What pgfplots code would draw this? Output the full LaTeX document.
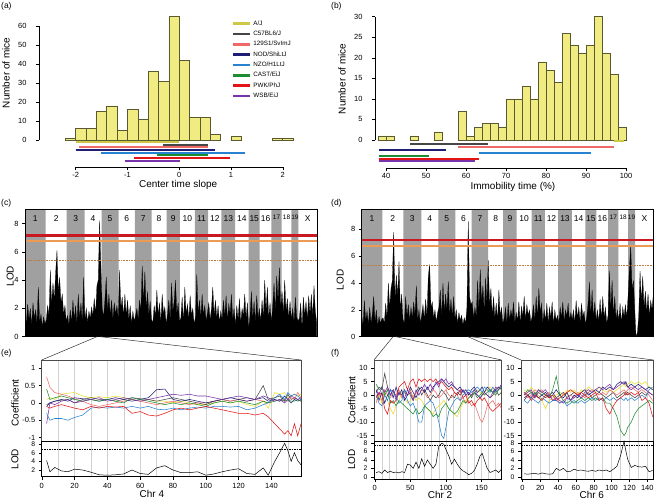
\documentclass[border=0pt]{standalone}
\usepackage{fontspec}
\setmainfont{Liberation Sans}
\usepackage{pgfplots}
\pgfplotsset{compat=1.18}
\usepackage{pgfplotstable}

\definecolor{histfill}{RGB}{240,236,130}
\definecolor{histdraw}{RGB}{90,90,50}
\definecolor{ajbar}{RGB}{205,200,70}
\definecolor{bandgray}{RGB}{160,160,160}
\definecolor{thrred}{RGB}{200,25,35}
\definecolor{throrange}{RGB}{235,155,85}
\definecolor{ajc}{RGB}{232,220,40}
\definecolor{b6c}{RGB}{70,70,70}
\definecolor{s129c}{RGB}{240,105,105}
\definecolor{nodc}{RGB}{30,30,120}
\definecolor{nzoc}{RGB}{40,130,210}
\definecolor{castc}{RGB}{30,140,50}
\definecolor{pwkc}{RGB}{228,20,20}
\definecolor{wsbc}{RGB}{120,50,170}

\pgfplotsset{
  every axis/.append style={
    scale only axis, anchor=south west,
    /pgf/number format/assume math mode=true,
    tick label style={font=\fontsize{7.5}{8}\selectfont},
    label style={font=\fontsize{10}{11}\selectfont},
    tick align=outside, major tick length=3bp,
    tick style={black, line width=0.4bp},
    axis line style={line width=0.5bp},
  },
  coef/.style={line width=0.55bp},
  lodpanel/.style={yticklabel style={font=\fontsize{6.8}{7}\selectfont}},
}

% genome scans, one value every 4 units of the (c)/(d) x axis
\pgfplotstableread[row sep=\\]{lod\\
1.8\\0.9\\2.3\\1.2\\2.0\\0.8\\2.4\\1.3\\1.9\\0.9\\3.5\\1.0\\1.6\\0.7\\1.4\\0.9\\
1.2\\2.2\\1.5\\4.7\\2.3\\3.8\\2.6\\4.5\\6.1\\3.2\\4.2\\2.4\\3.0\\1.6\\2.2\\1.1\\
1.5\\0.8\\1.9\\1.0\\2.6\\1.2\\2.2\\0.9\\3.0\\1.3\\2.4\\1.0\\4.2\\
1.2\\2.0\\1.0\\1.8\\1.3\\2.1\\1.5\\2.7\\1.6\\3.6\\4.0\\8.2\\5.0\\
2.0\\1.4\\2.6\\4.2\\1.8\\3.0\\1.5\\2.6\\1.2\\2.4\\1.6\\2.2\\1.3\\
4.7\\2.0\\2.8\\1.4\\3.0\\1.5\\2.6\\1.2\\2.2\\0.9\\1.8\\1.1\\
1.5\\2.0\\1.2\\2.6\\1.8\\5.0\\2.4\\4.6\\1.9\\3.2\\1.5\\2.5\\1.2\\
1.0\\2.2\\1.4\\3.3\\1.5\\2.4\\1.0\\3.0\\1.6\\2.1\\0.9\\
1.6\\2.6\\1.2\\3.8\\1.8\\2.5\\4.0\\1.6\\2.4\\1.1\\
1.3\\2.8\\1.0\\3.5\\1.6\\2.3\\1.2\\2.9\\1.5\\2.0\\0.9\\
1.4\\4.4\\1.6\\2.6\\1.3\\3.0\\1.5\\2.2\\1.1\\1.7\\
2.4\\1.2\\2.0\\3.5\\1.5\\2.6\\1.3\\2.2\\1.0\\1.8\\
1.2\\2.6\\1.4\\2.9\\1.1\\2.3\\1.6\\3.0\\1.2\\2.0\\
0.8\\2.2\\1.2\\2.7\\1.0\\2.0\\1.5\\3.0\\1.3\\2.4\\0.6\\
1.5\\3.2\\1.2\\2.5\\1.0\\2.9\\1.3\\2.0\\
1.1\\2.6\\1.4\\4.0\\1.8\\3.5\\1.3\\2.4\\1.0\\
2.2\\3.8\\1.8\\4.3\\2.5\\4.9\\2.0\\
3.2\\1.6\\4.0\\1.8\\2.7\\1.3\\2.5\\1.2\\
2.0\\1.0\\2.8\\1.4\\1.1\\
1.3\\2.4\\0.6\\2.8\\1.5\\2.5\\1.2\\2.9\\1.6\\3.0\\1.4\\3.6\\1.8\\1.0\\
}\scanc

\pgfplotstableread[row sep=\\]{lod\\
1.6\\0.8\\2.7\\1.2\\1.9\\0.9\\2.2\\1.0\\1.7\\3.0\\1.1\\2.0\\0.8\\1.5\\1.0\\1.3\\
1.4\\1.0\\2.5\\1.4\\4.0\\2.2\\3.6\\4.2\\7.8\\2.8\\4.6\\3.0\\5.6\\2.0\\3.2\\1.3\\
1.0\\3.0\\1.5\\2.4\\1.2\\2.2\\1.4\\2.6\\1.6\\3.8\\1.2\\2.0\\1.0\\
1.6\\2.4\\1.3\\2.8\\1.5\\4.5\\5.4\\2.2\\2.6\\1.4\\2.0\\1.1\\1.8\\
2.2\\3.5\\1.4\\4.0\\1.8\\3.2\\2.0\\4.1\\1.6\\2.8\\1.5\\3.0\\1.3\\
2.0\\1.0\\1.8\\1.2\\1.6\\0.9\\1.4\\1.0\\2.2\\8.6\\3.0\\2.4\\
2.6\\1.4\\2.2\\1.5\\4.2\\2.0\\5.0\\2.6\\3.8\\1.8\\4.4\\2.5\\5.7\\
2.4\\3.6\\1.6\\3.0\\1.4\\2.5\\1.2\\3.5\\1.5\\2.2\\1.0\\
1.4\\2.2\\1.0\\2.5\\1.2\\2.0\\1.5\\2.6\\1.0\\1.8\\
1.2\\2.6\\1.0\\2.3\\1.5\\3.0\\1.2\\2.4\\1.6\\2.0\\1.1\\
1.5\\2.4\\1.2\\3.0\\1.4\\3.6\\1.8\\2.5\\1.0\\2.0\\
1.2\\2.5\\1.0\\2.2\\1.4\\2.6\\0.9\\2.0\\1.2\\1.6\\
1.0\\2.2\\1.4\\2.6\\1.1\\2.0\\1.5\\2.5\\1.2\\1.8\\
1.3\\2.0\\1.0\\2.7\\1.4\\2.2\\1.1\\2.5\\1.5\\1.9\\0.9\\
1.5\\2.5\\4.1\\1.6\\3.5\\1.4\\2.6\\1.2\\
2.0\\1.1\\2.8\\1.3\\3.0\\1.4\\2.2\\1.0\\1.6\\
4.9\\2.0\\4.2\\1.6\\3.0\\1.3\\2.0\\
1.2\\2.5\\1.0\\2.2\\1.5\\2.4\\1.4\\3.0\\
5.1\\6.8\\3.5\\4.2\\2.0\\
0.0\\0.3\\1.6\\4.9\\2.6\\4.5\\2.2\\3.4\\1.8\\3.2\\1.5\\2.7\\2.0\\3.2\\
}\scand

% (e) chr 4: founder coefficients and LOD
\pgfplotstableread{
x    aj    b6    s129  nod   nzo   cast  pwk   wsb   lod
3    0.10 -0.05  0.75 -0.10 -0.30  0.40 -0.10 -0.60  4.2
5    0.15  0.00  0.45  0.00 -0.50  0.10 -0.15  0.00  1.6
8    0.10  0.05  0.30  0.05 -0.45  0.15 -0.10 -0.05  2.6
12   0.25  0.08  0.25  0.10 -0.45  0.20 -0.05  0.05  1.8
16   0.28  0.10  0.20  0.05 -0.50  0.15 -0.10  0.10  1.6
20   0.30  0.00  0.12  0.15 -0.42  0.10 -0.15  0.00  2.2
25   0.20  0.10  0.05  0.12 -0.35  0.05 -0.20  0.05  2.0
30   0.15  0.15 -0.05  0.10 -0.15  0.10 -0.10  0.10  1.5
35   0.18  0.10 -0.10  0.05 -0.12  0.05 -0.15  0.15  0.9
40   0.15  0.10 -0.05  0.10 -0.15  0.10 -0.10  0.05  0.8
45   0.20  0.05  0.00  0.15 -0.12  0.05 -0.12  0.10  0.9
50   0.15  0.10  0.05  0.10 -0.15  0.00 -0.10  0.15  1.1
55   0.10  0.15  0.10  0.05 -0.10  0.15 -0.30  0.10  2.0
60   0.05  0.12  0.05  0.10 -0.15  0.10 -0.25  0.05  1.2
65   0.10  0.10  0.00  0.15 -0.10  0.05 -0.35  0.10  1.0
70   0.05  0.05 -0.05  0.38 -0.18  0.00 -0.38  0.15  2.5
75   0.05  0.10  0.00  0.40 -0.20 -0.05 -0.30  0.20  3.0
80   0.00  0.15  0.05  0.10 -0.15  0.00 -0.20  0.25  2.0
85   0.05  0.10  0.00  0.05 -0.20 -0.05 -0.15  0.22  1.4
90   0.00  0.05 -0.05  0.10 -0.15  0.00 -0.20  0.25  1.4
95  -0.05  0.00  0.00  0.05 -0.12 -0.05 -0.15  0.20  1.6
100 -0.05 -0.05  0.00  0.00 -0.15 -0.10 -0.10  0.20  0.8
105  0.00  0.05  0.05  0.05 -0.10  0.00 -0.15  0.15  1.1
110  0.05  0.10  0.10  0.10 -0.10  0.05 -0.20  0.10  1.6
115  0.00  0.05  0.05  0.15 -0.12  0.00 -0.25  0.15  2.0
120  0.05  0.10  0.10  0.10 -0.10  0.05 -0.30  0.20  2.3
125 -0.05  0.15  0.05  0.05 -0.20  0.00 -0.30  0.15  1.2
130 -0.10  0.10  0.10  0.10 -0.15 -0.05 -0.35  0.10  1.0
135  0.05  0.50  0.05  0.15 -0.05  0.05 -0.30  0.20  2.5
138 -0.15  0.10  0.00  0.05  0.00  0.00 -0.40  0.15  0.8
142  0.30  0.15  0.10  0.10  0.15  0.05 -0.60  0.05  4.0
145  0.25  0.20  0.05  0.05  0.25  0.10 -0.75  0.10  6.0
148  0.30  0.05  0.10  0.20  0.10  0.05 -0.90  0.00  8.2
150  0.15  0.25  0.05  0.10  0.30  0.10 -0.80  0.10  6.5
152  0.20  0.10  0.15  0.00  0.20  0.05 -0.95  0.20  4.0
154  0.25  0.15  0.10  0.10  0.25  0.05 -0.60  0.15  6.0
156  0.20  0.10  0.30  0.05  0.20  0.10 -0.95  0.10  4.2
158  0.25  0.05  0.15  0.10  0.10  0.05 -0.60  0.15  3.2
}\coefE

% (f) chr 2
\pgfplotstableread{
x    aj   b6   s129 nod  nzo  cast pwk  wsb  lod
2    -2    1   -3    2    0    4   -1    2   1.0
6     0    3    1   -2   -3    2    1    0   1.2
10   -3    2   -2    1   -4    3    0    3   0.8
14    1    8    2   -3    0    0   -5    1   1.6
18   -2    3    0    0   -2    2   -7    3   1.0
22   -5    0   -1    2    2   -3   -2    0   1.3
26   -7    2    1   -1    1   -2   -3    2   1.0
30   -4   -1    0    3    0   -4   -2   -2   1.1
34   -2    1    2    0   -3   -2    3    1   0.9
38    1    0   -1    2   -2   -3    4    0   1.2
42   -1    2    1   -2    2   -4    5   -1   1.0
46   -3    0    0    0   -2   -5    2    2   3.0
50   -2    1    2    3   -4   -6    5    0   2.8
54    0   -2   -1    1   -3   -7    6   -2   2.0
58   -2    1    1   -1   -6   -5    3    2   3.5
62   -1    3    0    2  -10   -7    6    0   2.0
66   -2    0    2    3  -10   -6    5    2   4.3
70   -4    2    1    1   -4   -4    6    4   2.5
74   -5    0   -1    3   -3   -5    5    2   4.0
78   -6   -2    0    1   -2   -6    6    4   3.0
82   -7    0    2    3   -3   -8    5    2   2.0
86   -5   -1    1    4   -6   -7    6    5   3.0
90   -4    0   -1    5  -10   -8    4    3   7.3
94   -3    2    0    6  -15   -5    5    6   8.0
97   -2    1    1    5  -16   -4    4    5   7.8
100  -3    0    2    4  -12   -3    3    6   6.5
104  -5   -2    0    3   -6   -5    2    4   5.0
108  -6    0   -1    4   -4   -6    3    5   3.0
112  -7   -1    1    3   -2   -7    1    3   4.2
116  -8    1    0    2   -1   -6    0    2   3.0
120  -5    0   -2    3   -2   -4    2    1   2.0
124  -3    2   -1    1    0   -2   -1    2   1.4
128  -2    0   -3    2    1   -3    0    0   1.0
132  -1    1   -2    0    2   -1   -3    1   0.5
136   0   -1   -4    2    1    0   -2    0   0.8
140   1    1   -3    3    2    1   -4    2   1.5
144   2    0   -6    1    3   -1   -2    0   3.0
148   1   -1   -9    2    2    0   -1   -1   5.0
151   0    0  -10    3    1    1   -2    0   5.6
154   1    1   -8    1    3    0   -1    1   4.0
158   2    0   -4    3    2    1   -3    0   2.0
162   3   -1   -3    2    1    2   -5   -1   1.0
166   2    0   -2    1    3    1   -6    1   1.3
170   1    2   -4    2    1    0   -5    3   1.6
174   3    0   -3    3    2    2   -4    2   1.0
178   2    1   -5    2    4    3   -3    4   1.8
}\coefFa

% (f) chr 6
\pgfplotstableread{
x    aj   b6   s129 nod  nzo  cast pwk  wsb  lod
2     2   -1    1   -2   -2    0    1    0   0.7
6     1    0   -1    0   -3    2    0    1   0.6
10    3    1    0   -1   -1    1   -2    2   0.7
14    1   -1    2    1   -2    0    0   -1   0.8
18    0    1    1   -1   -3    2   -1    2   0.6
22   -2    0    2    0   -1    1   -2    1   0.9
26   -5   -1    0    1   -2    0    0    2   0.7
30   -2    0    1   -1   -3   -1   -1    0   0.6
34   -1    1   -2    0   -2    2    0   -2   0.7
38    0   -1   -1    2   -2    7   -2   -1   2.0
42    1    0   -3    0   -3    0   -1   -2   1.5
46    0    1   -2   -1   -2   -2    0   -3   2.0
50    2   -1   -1    1   -4   -3    1   -1   1.2
54    1    0    0   -2   -3   -2    2   -2   1.3
58    2    1   -1    0   -2   -3    1   -1   1.8
62    0    0    1   -1   -3   -2    0    0   1.5
66    2   -1    0    1   -2   -1    1   -1   1.6
70    1    0   -1    2   -3   -2    0    1   1.4
74    3    1    1    0   -2   -1   -1    2   1.3
78    2   -1    2    1   -1   -2    0    1   1.5
82    1    0    1    2   -2   -1    1    2   1.3
86    3    1    0    1   -1   -2   -2    3   1.6
90    2    0    1    3   -2   -1   -1    2   1.4
94    1   -1    0    2   -1   -3   -5    3   1.6
98    2    0    2    3   -2   -3   -7    4   1.2
102   1    1    1    2   -1   -5   -4    2   1.8
106   2   -1    0    4   -2   -8   -2    3   2.5
110   3    0    1    5   -1  -13   -1    4   5.0
114   4    1    2    4   -2  -15    0    5   8.5
116   3    0    1    5   -1  -14    1    4   6.2
118   4    1    2    3   -2  -12    0    3   4.2
122   5    0    3    4   -1  -10    1    2   2.2
126   4   -1    2    3   -2   -7    0    3   2.7
130   5    0    1    4   -1   -5    1    2   2.4
134   4    1    2    3    0   -4   -2    3   2.3
138   5    0    1    2   -1   -3   -1    2   2.5
142   3    1    0    3    2   -2   -3    1   1.2
146   2    0   -2    2    3   -3   -8    0   1.5
}\coefFb

\begin{document}
\begin{tikzpicture}[x=1bp,y=1bp]
\path[use as bounding box] (0,0) rectangle (654,501);

% ---------------- (a) ----------------
\begin{axis}[at={(39bp,333.5bp)}, width=261bp, height=152.5bp,
  xmin=-2.709, xmax=2.334, ymin=-14.47, ymax=65.79,
  axis line style={draw=none}, xtick pos=bottom, ytick pos=left,
  xtick={-2,-1,0,1,2}, ytick={0,10,...,60},
  yticklabel style={xshift=-6bp}, xticklabel style={yshift=1.5bp},
  xlabel={Center time slope}, ylabel={Number of mice},
  xlabel style={at={(rel axis cs:0.533,-0.115)}, anchor=center},
  ylabel style={at={(rel axis cs:-0.126,0.62)}, anchor=center},
  legend style={at={(rel axis cs:0.725,0.99)}, anchor=north west, draw=none, fill=none,
    font=\fontsize{6.3}{7}\selectfont, row sep=0.3bp},
  legend cell align=left, clip=false]
\addplot[ybar, bar width=0.2, bar shift=0pt, fill=histfill, draw=histdraw, line width=0.5bp, forget plot]
  coordinates {(-2.1,1)(-1.9,6)(-1.7,6)(-1.5,15)(-1.3,18)(-1.1,5)(-0.9,16)(-0.7,11)(-0.5,36)
  (-0.3,31)(-0.1,65)(0.1,42)(0.3,12)(0.5,12)(0.7,3)(1.1,2)(1.9,1)(2.1,1)};
\addplot[ajbar, line width=2.2bp, forget plot] coordinates {(-2,-0.9)(0,-0.9)};
\addplot[b6c, line width=2.2bp, forget plot] coordinates {(-0.31,-2.5)(0.55,-2.5)};
\addplot[s129c, line width=2.2bp, forget plot] coordinates {(-1.93,-3.7)(0.55,-3.7)};
\addplot[nodc, line width=2.2bp, forget plot] coordinates {(-2.0,-5.3)(0.69,-5.3)};
\addplot[nzoc, line width=2.2bp, forget plot] coordinates {(-1.51,-6.7)(1.27,-6.7)};
\addplot[castc, line width=2.2bp, forget plot] coordinates {(-0.42,-8.1)(0.55,-8.1)};
\addplot[pwkc, line width=2.2bp, forget plot] coordinates {(-0.87,-9.5)(0.98,-9.5)};
\addplot[wsbc, line width=2.2bp, forget plot] coordinates {(-1.04,-10.9)(0.02,-10.9)};
\addlegendimage{ajbar, line width=3bp}\addlegendentry{A/J}
\addlegendimage{b6c, line width=2.4bp}\addlegendentry{C57BL6/J}
\addlegendimage{s129c, line width=2.4bp}\addlegendentry{129S1/SvImJ}
\addlegendimage{nodc, line width=2.4bp}\addlegendentry{NOD/ShiLtJ}
\addlegendimage{nzoc, line width=2.4bp}\addlegendentry{NZO/H1LtJ}
\addlegendimage{castc, line width=2.4bp}\addlegendentry{CAST/EiJ}
\addlegendimage{pwkc, line width=2.4bp}\addlegendentry{PWK/PhJ}
\addlegendimage{wsbc, line width=2.4bp}\addlegendentry{WSB/EiJ}
\draw[line width=0.5bp] (axis cs:-2,-14.47) -- (axis cs:2,-14.47);
\draw[line width=0.5bp] (axis cs:-2.709,0) -- (axis cs:-2.709,60);
\end{axis}

% ---------------- (b) ----------------
\begin{axis}[at={(375bp,332.7bp)}, width=255bp, height=153.3bp,
  xmin=37.25, xmax=101, ymin=-6.89, ymax=30.41,
  axis line style={draw=none}, xtick pos=bottom, ytick pos=left,
  xtick={40,50,...,100}, ytick={0,5,...,30},
  yticklabel style={xshift=-6bp}, xticklabel style={yshift=1.5bp},
  xlabel={Immobility time (\%)}, ylabel={Number of mice},
  xlabel style={at={(rel axis cs:0.541,-0.122)}, anchor=center},
  ylabel style={at={(rel axis cs:-0.129,0.583)}, anchor=center},
  clip=false]
\addplot[ybar, bar width=2, bar shift=0pt, fill=histfill, draw=histdraw, line width=0.5bp]
  coordinates {(39,1)(41,1)(47,1)(53,2)(59,7)(61,1)(63,3)(65,4)(67,4)(69,3)(71,10)(73,10)
  (75,13)(77,10)(79,19)(81,17)(83,14)(85,26)(87,23)(89,21)(91,23)(93,30)(95,21)(97,16)(99,3)};
\addplot[ajbar, line width=2.2bp] coordinates {(97,-0.32)(99.5,-0.32)};
\addplot[b6c, line width=2.2bp] coordinates {(46,-0.97)(65.5,-0.97)};
\addplot[s129c, line width=2.2bp] coordinates {(58,-1.63)(97,-1.63)};
\addplot[nodc, line width=2.2bp] coordinates {(38.25,-2.5)(55,-2.5)};
\addplot[nzoc, line width=2.2bp] coordinates {(63.3,-3.24)(91.2,-3.24)};
\addplot[castc, line width=2.2bp] coordinates {(38.25,-3.97)(50.8,-3.97)};
\addplot[pwkc, line width=2.2bp] coordinates {(38.25,-4.62)(63.3,-4.62)};
\addplot[wsbc, line width=2.2bp] coordinates {(38.25,-5.18)(62.2,-5.18)};
\draw[line width=0.5bp] (axis cs:40,-6.89) -- (axis cs:100,-6.89);
\draw[line width=0.5bp] (axis cs:37.25,0) -- (axis cs:37.25,30);
\end{axis}

% ---------------- (c) ----------------
\begin{axis}[at={(25bp,164.3bp)}, width=292bp, height=127.4bp,
  xmin=0, xmax=877, ymin=0, ymax=9.0, axis on top,
  ytick={0,2,...,8}, ytick pos=left,
  xtick={31,93.5,152,204.5,255.5,305.5,355,402.5,445,487.5,530,570,610.5,651.5,688.5,722.5,755.5,785.5,810.5,849},
  xticklabels={1,2,3,4,5,6,7,8,9,10,11,12,13,14,15,16,{\fontsize{6.5}{7}\selectfont 17},{\fontsize{6.5}{7}\selectfont 18},{\fontsize{6.5}{7}\selectfont 19},X},
  xticklabel pos=upper, major x tick style={draw=none},
  xticklabel style={anchor=north, yshift=-5.5bp, font=\fontsize{8.5}{9}\selectfont},
  ylabel={LOD}, ylabel style={at={(rel axis cs:-0.051,0.476)}, anchor=center}]
\addplot[ybar interval, fill=bandgray, draw=none] coordinates {(0,9)(62,0)(125,9)(179,0)(230,9)(281,0)(330,9)(380,0)(425,9)(465,0)(510,9)(550,0)(590,9)(631,0)(672,9)(705,0)(740,9)(771,0)(800,9)(821,0)(877,0)};
\addplot[fill=black, draw=black, line width=0.2bp] table[x expr=\coordindex*4, y=lod] {\scanc} \closedcycle;
\addplot[thrred, line width=2.4bp] coordinates {(0,7.16)(877,7.16)};
\addplot[throrange, line width=2bp] coordinates {(0,6.74)(877,6.74)};
\addplot[throrange!80!black, line width=0.8bp, dash pattern=on 0.8bp off 0.8bp] coordinates {(0,5.39)(877,5.39)};
\end{axis}

% ---------------- (d) ----------------
\begin{axis}[at={(361.7bp,164.3bp)}, width=292bp, height=127.4bp,
  xmin=0, xmax=877, ymin=0, ymax=9.5, axis on top,
  ytick={0,2,...,8}, ytick pos=left,
  xtick={31,93.5,152,204.5,255.5,305.5,355,402.5,445,487.5,530,570,610.5,651.5,688.5,722.5,755.5,785.5,810.5,849},
  xticklabels={1,2,3,4,5,6,7,8,9,10,11,12,13,14,15,16,{\fontsize{6.5}{7}\selectfont 17},{\fontsize{6.5}{7}\selectfont 18},{\fontsize{6.5}{7}\selectfont 19},X},
  xticklabel pos=upper, major x tick style={draw=none},
  xticklabel style={anchor=north, yshift=-5.5bp, font=\fontsize{8.5}{9}\selectfont},
  ylabel={LOD}, ylabel style={at={(rel axis cs:-0.074,0.445)}, anchor=center}]
\addplot[ybar interval, fill=bandgray, draw=none] coordinates {(0,9.5)(62,0)(125,9.5)(179,0)(230,9.5)(281,0)(330,9.5)(380,0)(425,9.5)(465,0)(510,9.5)(550,0)(590,9.5)(631,0)(672,9.5)(705,0)(740,9.5)(771,0)(800,9.5)(821,0)(877,0)};
\addplot[fill=black, draw=black, line width=0.2bp] table[x expr=\coordindex*4, y=lod] {\scand} \closedcycle;
\addplot[thrred, line width=2.4bp] coordinates {(0,7.2)(877,7.2)};
\addplot[throrange, line width=2bp] coordinates {(0,6.77)(877,6.77)};
\addplot[throrange!80!black, line width=0.8bp, dash pattern=on 0.8bp off 0.8bp] coordinates {(0,5.3)(877,5.3)};
\end{axis}

% ---------------- (e) ----------------
\begin{axis}[at={(41.7bp,60bp)}, width=259.3bp, height=81bp,
  xmin=0, xmax=158, ymin=-1.1, ymax=1.24,
  ytick={-1,-0.5,0,0.5,1}, ytick pos=left,
  xtick={10,20,...,150}, xticklabels={}, major x tick style={draw=none},
  xmajorgrids, grid style={black!18, line width=0.5bp},
  axis line style={black!70},
  ylabel={Coefficient}, ylabel style={at={(rel axis cs:-0.103,0.47)}, anchor=center}]
\addplot[ajc, coef] table[x=x, y=aj] {\coefE};
\addplot[b6c, coef] table[x=x, y=b6] {\coefE};
\addplot[s129c, coef] table[x=x, y=s129] {\coefE};
\addplot[nodc, coef] table[x=x, y=nod] {\coefE};
\addplot[nzoc, coef] table[x=x, y=nzo] {\coefE};
\addplot[castc, coef] table[x=x, y=cast] {\coefE};
\addplot[pwkc, coef] table[x=x, y=pwk] {\coefE};
\addplot[wsbc, coef] table[x=x, y=wsb] {\coefE};
\end{axis}
\begin{axis}[at={(41.7bp,24.3bp)}, width=259.3bp, height=35.2bp, lodpanel,
  xmin=0, xmax=158, ymin=0.46, ymax=8.6,
  ytick={2,4,6,8}, ytick pos=left, xtick={0,20,...,140}, xtick pos=bottom,
  minor xtick={10,30,...,150}, minor tick length=0bp,
  xmajorgrids, xminorgrids, grid style={black!18, line width=0.5bp},
  xlabel={Chr 4}, xlabel style={at={(rel axis cs:0.425,-0.5)}, anchor=center},
  ylabel={LOD}, ylabel style={at={(rel axis cs:-0.103,0.5)}, anchor=center}]
\addplot[black, line width=0.5bp] table[x=x, y=lod] {\coefE};
\addplot[black, line width=0.8bp, dash pattern=on 1.5bp off 1bp] coordinates {(0,6.8)(158,6.8)};
\end{axis}

% ---------------- (f) chr 2 ----------------
\begin{axis}[at={(374bp,60bp)}, width=127.5bp, height=81bp,
  xmin=-1, xmax=178.1, ymin=-17, ymax=13,
  ytick={-15,-10,...,10}, ytick pos=left,
  xtick={10,20,...,170}, xticklabels={}, major x tick style={draw=none},
  xmajorgrids, grid style={black!18, line width=0.5bp},
  axis line style={black!70},
  ylabel={Coefficient}, ylabel style={at={(rel axis cs:-0.175,0.506)}, anchor=center}]
\addplot[ajc, coef] table[x=x, y=aj] {\coefFa};
\addplot[b6c, coef] table[x=x, y=b6] {\coefFa};
\addplot[s129c, coef] table[x=x, y=s129] {\coefFa};
\addplot[nodc, coef] table[x=x, y=nod] {\coefFa};
\addplot[nzoc, coef] table[x=x, y=nzo] {\coefFa};
\addplot[castc, coef] table[x=x, y=cast] {\coefFa};
\addplot[pwkc, coef] table[x=x, y=pwk] {\coefFa};
\addplot[wsbc, coef] table[x=x, y=wsb] {\coefFa};
\end{axis}
\begin{axis}[at={(374bp,22bp)}, width=127.5bp, height=38bp, lodpanel,
  xmin=-1, xmax=178.1, ymin=-0.55, ymax=8.55,
  ytick={0,2,...,8}, ytick pos=left, xtick={0,50,100,150}, xtick pos=bottom,
  minor xtick={10,20,30,40,60,70,80,90,110,120,130,140,160,170}, minor tick length=0bp,
  xmajorgrids, xminorgrids, grid style={black!18, line width=0.5bp},
  xlabel={Chr 2}, xlabel style={at={(rel axis cs:0.518,-0.43)}, anchor=center},
  ylabel={LOD}, ylabel style={at={(rel axis cs:-0.175,0.51)}, anchor=center}]
\addplot[black, line width=0.5bp] table[x=x, y=lod] {\coefFa};
\addplot[black, line width=0.8bp, dash pattern=on 1.5bp off 1bp] coordinates {(-1,7.4)(178.1,7.4)};
\end{axis}

% ---------------- (f) chr 6 ----------------
\begin{axis}[at={(521bp,60bp)}, width=132.5bp, height=81bp,
  xmin=-1.5, xmax=147, ymin=-17, ymax=13,
  ytick={-15,-10,...,10}, ytick pos=left,
  xtick={10,20,...,140}, xticklabels={}, major x tick style={draw=none},
  xmajorgrids, grid style={black!18, line width=0.5bp},
  axis line style={black!70}]
\addplot[ajc, coef] table[x=x, y=aj] {\coefFb};
\addplot[b6c, coef] table[x=x, y=b6] {\coefFb};
\addplot[s129c, coef] table[x=x, y=s129] {\coefFb};
\addplot[nodc, coef] table[x=x, y=nod] {\coefFb};
\addplot[nzoc, coef] table[x=x, y=nzo] {\coefFb};
\addplot[castc, coef] table[x=x, y=cast] {\coefFb};
\addplot[pwkc, coef] table[x=x, y=pwk] {\coefFb};
\addplot[wsbc, coef] table[x=x, y=wsb] {\coefFb};
\end{axis}
\begin{axis}[at={(521bp,22bp)}, width=132.5bp, height=38bp, lodpanel,
  xmin=-1.5, xmax=147, ymin=-0.55, ymax=8.55,
  ytick={0,2,...,8}, ytick pos=left, xtick={0,20,...,140}, xtick pos=bottom,
  minor xtick={10,30,...,130}, minor tick length=0bp,
  xmajorgrids, xminorgrids, grid style={black!18, line width=0.5bp},
  xlabel={Chr 6}, xlabel style={at={(rel axis cs:0.534,-0.43)}, anchor=center}]
\addplot[black, line width=0.5bp] table[x=x, y=lod] {\coefFb};
\addplot[black, line width=0.8bp, dash pattern=on 1.5bp off 1bp] coordinates {(-1.5,7.4)(147,7.4)};
\end{axis}

% zoom connector lines
\draw[line width=0.5bp, black!80] (97,164.3) -- (41.7,141);
\draw[line width=0.5bp, black!80] (100,164.3) -- (301,141);
\draw[line width=0.5bp, black!80] (393,164.3) -- (374,141);
\draw[line width=0.5bp, black!80] (396,164.3) -- (501.5,141);
\draw[line width=0.5bp, black!80] (468,164.3) -- (521,141);
\draw[line width=0.5bp, black!80] (471,164.3) -- (653.5,141);

% panel letters
\begin{scope}[every node/.style={font=\fontsize{8.5}{9}\selectfont, inner sep=0pt, anchor=north west}]
\node at (1,499) {(a)};
\node at (331,499) {(b)};
\node at (1,302) {(c)};
\node at (331,302) {(d)};
\node at (1,152) {(e)};
\node at (331,152) {(f)};
\end{scope}
\end{tikzpicture}
\end{document}
